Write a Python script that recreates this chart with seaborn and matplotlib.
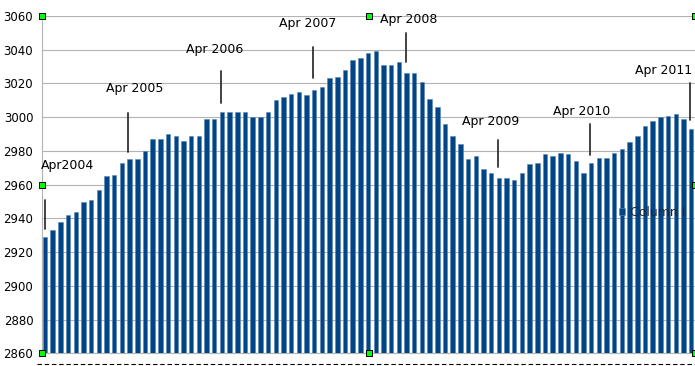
import numpy as np
import pandas as pd
import matplotlib.pyplot as plt
import seaborn as sns
from matplotlib.lines import Line2D

# monthly series, Apr 2004 .. Apr 2011
months = pd.date_range("2004-04-01", periods=85, freq="MS").strftime("%b %Y")
values = [
    2929, 2933, 2938, 2942, 2944, 2950, 2951, 2957, 2965, 2966, 2973, 2975,
    2975, 2980, 2987, 2987, 2990, 2989, 2986, 2989, 2989, 2999, 2999, 3003,
    3003, 3003, 3003, 3000, 3000, 3003, 3010, 3012, 3014, 3015, 3013, 3016,
    3018, 3023, 3024, 3028, 3034, 3035, 3038, 3039, 3031, 3031, 3033, 3026,
    3026, 3021, 3011, 3006, 2996, 2989, 2984, 2975, 2977, 2969, 2967, 2964,
    2964, 2963, 2967, 2972, 2973, 2978, 2977, 2979, 2978, 2974, 2967, 2973,
    2976, 2976, 2979, 2981, 2985, 2989, 2995, 2998, 3000, 3001, 3002, 2999,
    2993,
]
series_name = "Column I"

y_ticks = list(range(2860, 3061, 20))

# callout labels: text position and pointer line (bar index, value)
ann_labels = ["Apr2004", "Apr 2005", "Apr 2006", "Apr 2007",
              "Apr 2008", "Apr 2009", "Apr 2010", "Apr 2011"]
ann_text_x = [2.9, 11.7, 22.0, 34.1, 47.3, 57.9, 69.8, 80.4]
ann_text_y = [2971.5, 3017.3, 3040.4, 3055.3, 3058.2, 2997.7, 3003.6, 3027.4]
ann_line_x = [0.0, 10.8, 22.9, 34.85, 46.9, 58.9, 70.9, 83.9]
ann_line_top = [2950.8, 3002.4, 3027.4, 3041.6, 3049.9, 2986.4, 2995.9, 3020.2]
ann_line_bot = [2933.6, 2979.3, 3008.4, 3023.2, 3032.7, 2970.4, 2977.5, 2998.3]

BAR = "#004586"
GRID = "#b3b3b3"

sns.set_style("white")
plt.rcParams["font.family"] = ["DejaVu Sans"]

fig = plt.figure(figsize=(6.95, 3.66), dpi=100)
ax = fig.add_axes([42.3 / 695, 1 - 353.3 / 366, 1 - 42.3 / 695, (353.3 - 16) / 366])

df = pd.DataFrame({"month": months, "value": values})
sns.barplot(data=df, x="month", y="value", color=BAR, saturation=1,
            width=0.58, label=series_name, ax=ax, zorder=3)
for p in ax.patches:
    p.set_edgecolor("#5a86b8")
    p.set_linewidth(0.4)

ax.set_ylim(2860, 3060)
ax.set_xlim(-0.35, 84.5)
ax.set_yticks(y_ticks)
ax.set_yticklabels([str(t) for t in y_ticks], fontsize=8.5)
ax.yaxis.grid(True, color=GRID, linewidth=0.8, zorder=0)
ax.set_axisbelow(True)
ax.tick_params(axis="y", length=0, pad=6.5, colors="black")

ax.set_xticks(np.arange(len(values)) - 0.35)
ax.set_xticklabels([])
ax.tick_params(axis="x", length=3.6, width=0.8, color=GRID, direction="out")
ax.set_xlabel("")
ax.set_ylabel("")

for s in ["top", "right"]:
    ax.spines[s].set_visible(False)
for s in ["left", "bottom"]:
    ax.spines[s].set_color(GRID)
    ax.spines[s].set_linewidth(0.8)

for lab, tx, ty, lx, y0, y1 in zip(ann_labels, ann_text_x, ann_text_y,
                                   ann_line_x, ann_line_top, ann_line_bot):
    ax.text(tx, ty, lab, ha="center", va="center", fontsize=9, color="black", zorder=5)
    ax.plot([lx, lx], [y0, y1], color="#333333", linewidth=1.3, zorder=5)

ax.legend(loc="center left", bbox_to_anchor=(619 / 695, 1 - 212 / 366),
          bbox_transform=fig.transFigure, frameon=False, fontsize=9,
          handlelength=0.5, handleheight=0.5, handletextpad=0.4,
          borderpad=0, borderaxespad=0)

# selection handles around the chart frame
hx = [0, 0.5, 1, 0, 1, 0, 0.5, 1]
hy = [1, 1, 1, 0.5, 0.5, 0, 0, 0]
ax.scatter(hx, hy, marker="s", s=20, color="#00ff00", edgecolor="black",
           linewidth=0.7, transform=ax.transAxes, clip_on=False, zorder=10)

fig.add_artist(Line2D([37 / 695, 1], [1 - 364 / 366] * 2, transform=fig.transFigure,
                      color="black", linewidth=0.8, linestyle=(0, (4, 2.5))))

fig.savefig("out.png", dpi=100)
